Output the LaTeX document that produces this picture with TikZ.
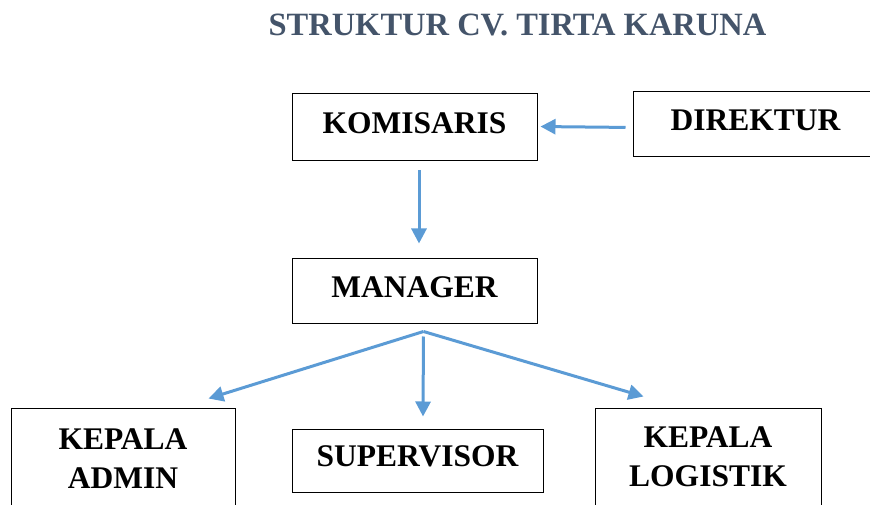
\documentclass[tikz,border=0pt]{standalone}
\usepackage{fontspec}
\setmainfont{Liberation Serif}
\usetikzlibrary{arrows.meta, positioning}
\definecolor{TK_Blue}{RGB}{91,155,213}
\definecolor{TK_Slate}{RGB}{68,84,106}

\begin{document}
\begin{tikzpicture}[
    x=1pt, y=1pt,
    node distance=95pt and 95pt,
    unit/.style={rectangle, draw=black, line width=1pt, inner sep=0pt, align=center,
                 font=\fontsize{31.5}{39}\selectfont\bfseries},
    unitone/.style={unit, text depth=8pt},
    arrow/.style={-{Triangle[length=15pt, width=15pt]}, line width=3pt, TK_Blue}
]
\useasboundingbox (0,0) rectangle (870,504);
\clip (0,0) rectangle (870,504);

\node[font=\fontsize{32.5}{39}\selectfont\bfseries, text=TK_Slate] (title) at (517.5,479.5) {STRUKTUR CV. TIRTA KARUNA};

\node[unitone, minimum width=245pt, minimum height=67pt] (komisaris) at (414.5,376.5) {KOMISARIS};

\node[unitone, minimum width=245pt, minimum height=65pt, right=95pt of komisaris, yshift=3pt] (direktur) {DIREKTUR};

\node[unitone, minimum width=245pt, minimum height=64pt, below=97pt of komisaris] (manager) {MANAGER};

\node[unitone, minimum width=251pt, minimum height=63pt, below=105pt of manager, xshift=3pt] (supervisor) {SUPERVISOR};

\node[unit, minimum width=224pt, minimum height=101pt, left=56pt of supervisor, yshift=2pt] (admin) {KEPALA\\ADMIN};

\node[unit, minimum width=226pt, minimum height=97pt, right=51pt of supervisor, yshift=4pt] (logistik) {KEPALA\\LOGISTIK};

\coordinate (split) at ([xshift=9pt, yshift=-8pt]manager.south);

\draw[arrow, shorten <=7pt, shorten >=3pt] ([yshift=-3pt]direktur.west) -- ([yshift=1pt]komisaris.east);
\draw[arrow, shorten <=9pt, shorten >=15pt] ([xshift=4.5pt]komisaris.south) -- ([xshift=4.5pt]manager.north);
\draw[arrow] (split) -- ([xshift=-27pt, yshift=9pt]admin.north east);
\draw[arrow, shorten <=5pt] (split) -- ([xshift=5.5pt, yshift=12pt]supervisor.north);
\draw[arrow] (split) -- ([xshift=49pt, yshift=11pt]logistik.north west);

\end{tikzpicture}
\end{document}
